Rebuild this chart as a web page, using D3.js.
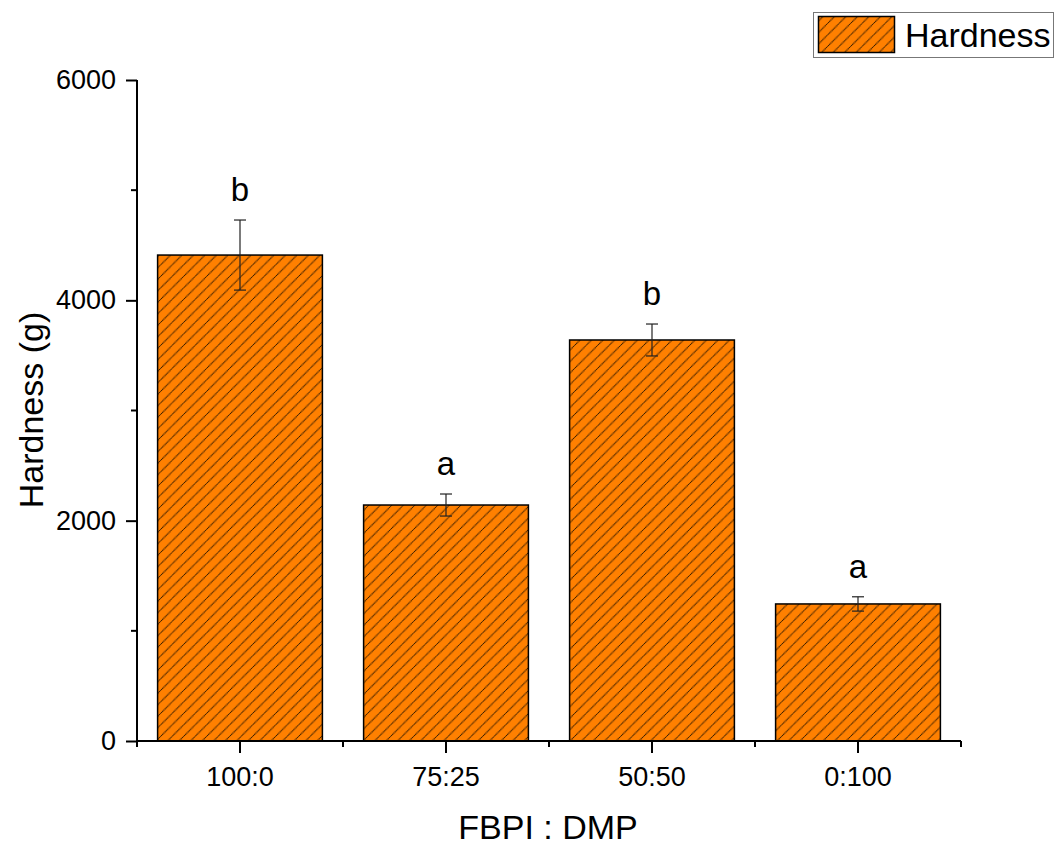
<!DOCTYPE html>
<html>
<head>
<meta charset="utf-8">
<script src="https://cdn.jsdelivr.net/npm/d3@7/dist/d3.min.js"></script>
<style>
  html, body { margin: 0; padding: 0; background: #fff; }
  svg { display: block; font-family: "Liberation Sans", Arial, sans-serif; }
</style>
</head>
<body>
<svg id="chart" width="1059" height="845"></svg>
<script>
// Hardness of FBPI : DMP blends
const categories = ["100:0", "75:25", "50:50", "0:100"];
const hardness = [4411, 2142, 3640, 1244];
const hardnessSD = [318, 100, 145, 65];
const letters = ["b", "a", "b", "a"];
const yTicks = [0, 2000, 4000, 6000];
const yMinorTicks = [1000, 3000, 5000];

(function () {
const svg = d3.select("#chart");
const mLeft = 137, mRight = 961, mTop = 80, mBottom = 741;
const FONT = "Liberation Sans, Arial, sans-serif";

const x = d3.scaleBand().domain(categories).range([mLeft, mRight])
  .paddingInner(0.2).paddingOuter(0.1);
const y = d3.scaleLinear().domain([0, 6000]).range([mBottom, mTop]);

// diagonal hatch pattern
const defs = svg.append("defs");
const pat = defs.append("pattern")
  .attr("id", "hatch").attr("patternUnits", "userSpaceOnUse")
  .attr("width", 11.5).attr("height", 11.5);
pat.append("rect").attr("width", 11.5).attr("height", 11.5).attr("fill", "#ff8000");
pat.append("path")
  .attr("d", "M-1,1 l2,-2 M0,11.5 l11.5,-11.5 M10.5,12.5 l2,-2")
  .attr("stroke", "#2a1500").attr("stroke-width", 1.1).attr("stroke-dasharray", "1.2,0.5");

// bars
svg.append("g").selectAll("rect").data(categories).join("rect")
  .attr("x", d => x(d))
  .attr("y", (d, i) => y(hardness[i]))
  .attr("width", x.bandwidth())
  .attr("height", (d, i) => y(0) - y(hardness[i]))
  .attr("fill", "url(#hatch)")
  .attr("stroke", "#000").attr("stroke-width", 1.5);

// error bars
const eg = svg.append("g").attr("stroke", "#222").attr("stroke-width", 1.2);
categories.forEach((c, i) => {
  const cx = x(c) + x.bandwidth() / 2;
  const y1 = y(hardness[i] + hardnessSD[i]);
  const y2 = y(hardness[i] - hardnessSD[i]);
  eg.append("line").attr("x1", cx).attr("x2", cx).attr("y1", y1).attr("y2", y2);
  eg.append("line").attr("x1", cx - 6).attr("x2", cx + 6).attr("y1", y1).attr("y2", y1);
  eg.append("line").attr("x1", cx - 6).attr("x2", cx + 6).attr("y1", y2).attr("y2", y2);
});

// significance letters
svg.append("g").selectAll("text").data(categories).join("text")
  .attr("x", d => x(d) + x.bandwidth() / 2)
  .attr("y", (d, i) => y(hardness[i] + hardnessSD[i]) - 19)
  .attr("text-anchor", "middle")
  .attr("font-size", 33).attr("fill", "#000")
  .text((d, i) => letters[i]);

// y axis
const yAxis = svg.append("g").attr("transform", `translate(${mLeft},0)`)
  .call(d3.axisLeft(y).tickValues(yTicks).tickSize(11).tickPadding(10).tickFormat(d3.format("d")));
yAxis.select(".domain").attr("d", `M0,${mBottom}V${mTop}`).attr("stroke-width", 2);
yAxis.selectAll(".tick line").attr("stroke-width", 2);
yAxis.selectAll("text").attr("font-size", 27).attr("fill", "#000").attr("font-family", FONT);
svg.append("g").selectAll("line").data(yMinorTicks).join("line")
  .attr("x1", mLeft - 6).attr("x2", mLeft).attr("y1", d => y(d)).attr("y2", d => y(d))
  .attr("stroke", "#000").attr("stroke-width", 2);

// x axis
const xAxis = svg.append("g").attr("transform", `translate(0,${mBottom})`)
  .call(d3.axisBottom(x).tickSize(12).tickPadding(14));
xAxis.select(".domain").attr("d", `M${mLeft},0H${mRight}`).attr("stroke-width", 2);
xAxis.selectAll(".tick line").attr("stroke-width", 2);
xAxis.selectAll("text").attr("font-size", 27).attr("fill", "#000").attr("font-family", FONT);
// minor ticks at the category boundaries
const bounds = d3.range(categories.length + 1).map(k => mLeft + k * x.step());
svg.append("g").selectAll("line").data(bounds).join("line")
  .attr("x1", d => d).attr("x2", d => d).attr("y1", mBottom).attr("y2", mBottom + 6)
  .attr("stroke", "#000").attr("stroke-width", 2);

// axis titles
svg.append("text")
  .attr("transform", `translate(43,410) rotate(-90)`)
  .attr("text-anchor", "middle").attr("font-size", 34).attr("fill", "#000")
  .text("Hardness (g)");
svg.append("text")
  .attr("x", 548).attr("y", 839)
  .attr("text-anchor", "middle").attr("font-size", 34).attr("fill", "#000")
  .text("FBPI : DMP");

// legend
const lg = svg.append("g");
lg.append("rect").attr("x", 813.5).attr("y", 12.5).attr("width", 240).attr("height", 45)
  .attr("fill", "#fff").attr("stroke", "#777").attr("stroke-width", 1);
lg.append("rect").attr("x", 818.5).attr("y", 16.5).attr("width", 76).attr("height", 36)
  .attr("fill", "url(#hatch)").attr("stroke", "#000").attr("stroke-width", 1.5);
lg.append("text").attr("x", 905).attr("y", 47).attr("font-size", 34).attr("fill", "#000")
  .text("Hardness");
})();
</script>
</body>
</html>
